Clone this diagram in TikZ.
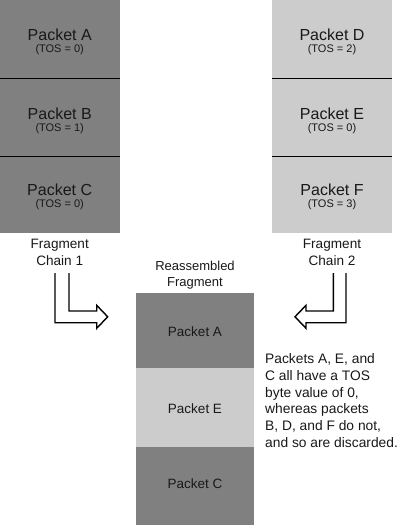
\documentclass[tikz,border=0pt]{standalone}
\usepackage{fontspec}
\setmainfont{Liberation Sans}
\definecolor{darkpk}{RGB}{128,128,128}
\definecolor{lightpk}{RGB}{204,204,204}
\definecolor{txt}{RGB}{25,25,25}
\tikzset{
  pkbox/.style={inner sep=0pt, outer sep=0pt, draw=none, anchor=north west},
  bigname/.style={anchor=base, inner sep=0pt, text=txt, font=\fontsize{16}{16}\selectfont},
  tosval/.style={anchor=base, inner sep=0pt, text=txt, font=\fontsize{11}{11}\selectfont},
  smallname/.style={anchor=base, inner sep=0pt, text=txt, font=\fontsize{13.5}{13.5}\selectfont},
  label/.style={anchor=base, inner sep=0pt, text=txt, align=center, font=\fontsize{13.6}{16.7}\selectfont},
  divider/.style={line width=1.5pt, black},
  hollowarrow/.style={line width=1.4pt, black, line join=miter},
}
\begin{document}
\begin{tikzpicture}[x=1pt,y=-1pt]
\useasboundingbox[fill=white] (0,0) rectangle (400,525);
% chains
\node[pkbox, fill=darkpk, minimum width=119.5pt, minimum height=233pt] (chain1) at (0,0) {};
\node[pkbox, fill=lightpk, minimum width=119.5pt, minimum height=233pt] (chain2) at (272,0) {};
\draw[divider] (0,78.5) -- (119.5,78.5);
\draw[divider] (0,156.3) -- (119.5,156.3);
\draw[divider] (272,78.5) -- (391.5,78.5);
\draw[divider] (272,156.3) -- (391.5,156.3);
\node[bigname] (pA) at (59.7,40) {Packet A};
\node[tosval] (tA) at (59.7,52.7) {(TOS = 0)};
\node[bigname] (pB) at (59.7,119) {Packet B};
\node[tosval] (tB) at (59.7,131.7) {(TOS = 1)};
\node[bigname] (pC) at (59.7,195) {Packet C};
\node[tosval] (tC) at (59.7,207.2) {(TOS = 0)};
\node[bigname] (pD) at (332,40) {Packet D};
\node[tosval] (tD) at (332,52.7) {(TOS = 2)};
\node[bigname] (pE) at (332,119) {Packet E};
\node[tosval] (tE) at (332,131.7) {(TOS = 0)};
\node[bigname] (pF) at (332,195) {Packet F};
\node[tosval] (tF) at (332,207.2) {(TOS = 3)};
% labels (anchor = baseline of last line)
\node[label] (l1) at (59.7,265) {Fragment\\Chain 1};
\node[label] (l2) at (332,265) {Fragment\\Chain 2};
\node[label, font=\fontsize{13}{16.7}\selectfont] (l3) at (195,286.7) {Reassembled\\Fragment};
% reassembled
\node[pkbox, fill=darkpk, minimum width=118.6pt, minimum height=75pt] (rA) at (135.7,293.3) {};
\node[pkbox, fill=lightpk, minimum width=118.6pt, minimum height=78.4pt] (rE) at (135.7,368.3) {};
\node[pkbox, fill=darkpk, minimum width=118.6pt, minimum height=78pt] (rC) at (135.7,446.7) {};
\node[smallname] (qA) at (195,336.7) {Packet A};
\node[smallname] (qE) at (195,413.3) {Packet E};
\node[smallname] (qC) at (195,488.3) {Packet C};
% arrows
\draw[hollowarrow] (55,273) -- (55,322.7) -- (96.7,322.7) -- (96.7,328.3) -- (107.7,316.8) -- (96.7,305.3) -- (96.7,311) -- (69,311) -- (69,273);
\draw[hollowarrow] (346,273) -- (346,322.7) -- (306,322.7) -- (306,328.3) -- (295,316.8) -- (306,305.3) -- (306,311) -- (333.3,311) -- (333.3,273);
% note
\node[anchor=base west, inner sep=0pt, text=txt, align=left, font=\fontsize{13.8}{16.7}\selectfont] (note) at (265,447.3) {Packets A, E, and\\C all have a TOS\\byte value of 0,\\whereas packets\\B, D, and F do not,\\and so are discarded.};
\end{tikzpicture}
\end{document}
